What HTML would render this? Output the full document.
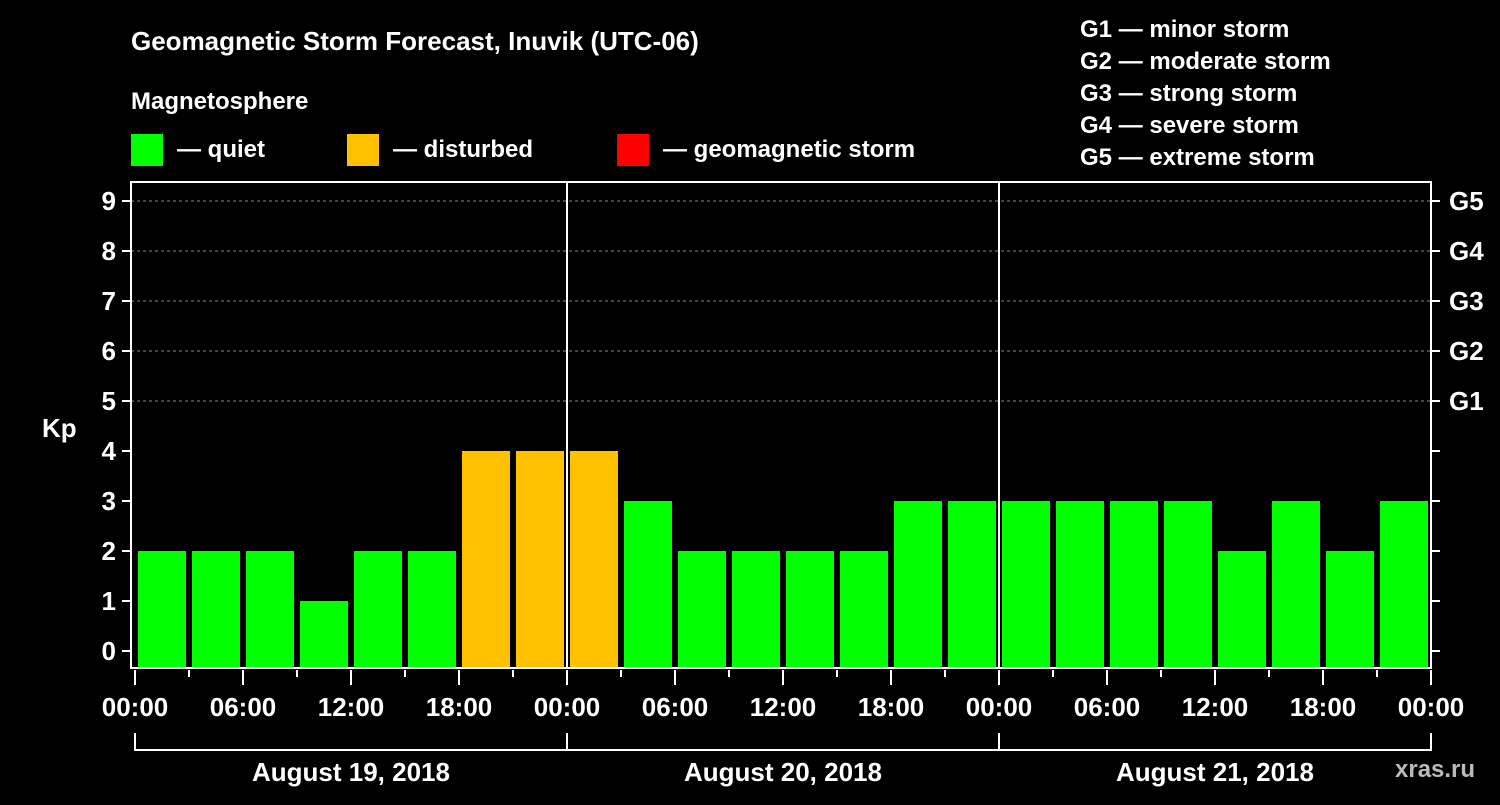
<!DOCTYPE html>
<html><head><meta charset="utf-8"><style>
body{margin:0;background:#000;width:1500px;height:800px;overflow:hidden}
svg text{font-family:"Liberation Sans",Arial,sans-serif;font-weight:bold;fill:#fff}
</style></head><body>
<svg id="c" width="1500" height="800" xmlns="http://www.w3.org/2000/svg">
<text x="131" y="50" font-size="26">Geomagnetic Storm Forecast, Inuvik (UTC-06)</text>
<text x="131" y="109" font-size="24">Magnetosphere</text>
<rect x="131" y="134" width="32" height="32" fill="#00ff00"/>
<text x="177" y="157" font-size="24">— quiet</text>
<rect x="347" y="134" width="32" height="32" fill="#ffc000"/>
<text x="393" y="157" font-size="24">— disturbed</text>
<rect x="617" y="134" width="32" height="32" fill="#ff0000"/>
<text x="663" y="157" font-size="24">— geomagnetic storm</text>
<g font-size="24">
<text x="1080" y="37">G1 — minor storm</text>
<text x="1080" y="69">G2 — moderate storm</text>
<text x="1080" y="101">G3 — strong storm</text>
<text x="1080" y="133">G4 — severe storm</text>
<text x="1080" y="165">G5 — extreme storm</text>
</g>
<text x="42" y="437" font-size="26">Kp</text>
<text x="1395" y="777" font-size="24" fill="#bbb" style="fill:#bbb">xras.ru</text>
<g id="plot"></g>
</svg>
<script>
const kpValues=[2,2,2,1,2,2,4,4,4,3,2,2,2,2,3,3,3,3,3,3,2,3,2,3];
const yTicks=[0,1,2,3,4,5,6,7,8,9];
const gLabels=["G1","G2","G3","G4","G5"];
const xTickLabels=["00:00","06:00","12:00","18:00","00:00","06:00","12:00","18:00","00:00","06:00","12:00","18:00","00:00"];
const dayLabels=["August 19, 2018","August 20, 2018","August 21, 2018"];
const NS="http://www.w3.org/2000/svg";
const g=document.getElementById('plot');
const x0=135,slot=54,L=131,R=1431,T=182,B=668;
const y=v=>651-50*v;
const xs=i=>x0+i*slot;
function mk(t,a){const e=document.createElementNS(NS,t);for(const k in a)e.setAttribute(k,a[k]);g.appendChild(e);return e;}
// grid
for(let v=5;v<=9;v++){const e=mk('line',{x1:L,x2:R,y1:y(v),y2:y(v),stroke:'#888','stroke-dasharray':'3,3','stroke-width':1});

}
// bars
kpValues.forEach((v,i)=>{const c=v>=5?'#ff0000':(v>=4?'#ffc000':'#00ff00');
const e=mk('rect',{x:xs(i)+3,y:y(v),width:48,height:B-y(v),fill:c});

});
// frame and day separators
const f=mk('rect',{x:L,y:T,width:R-L,height:B-T,fill:'none',stroke:'#fff','stroke-width':2});


[1,2].forEach(d=>{const e=mk('line',{x1:xs(d*8),x2:xs(d*8),y1:T,y2:B,stroke:'#fff','stroke-width':2});

});
// y ticks
yTicks.forEach(v=>{
const a=mk('line',{x1:122,x2:L,y1:y(v),y2:y(v),stroke:'#fff','stroke-width':2});


const b=mk('line',{x1:R,x2:1440,y1:y(v),y2:y(v),stroke:'#fff','stroke-width':2});


const t=mk('text',{x:116,y:y(v)+9,'font-size':26,'text-anchor':'end'});t.textContent=v;

});
gLabels.forEach((s,i)=>{const t=mk('text',{x:1449,y:y(5+i)+9,'font-size':26});t.textContent=s;

});
// x ticks
for(let i=0;i<=24;i++){const maj=i%2==0;
const e=mk('line',{x1:xs(i),x2:xs(i),y1:B+2,y2:maj?685:677,stroke:'#fff','stroke-width':2});

}
xTickLabels.forEach((s,i)=>{const t=mk('text',{x:xs(i*2),y:716,'font-size':26,'text-anchor':'middle'});t.textContent=s;

});
// day brackets
const br=mk('path',{d:`M${xs(0)} 733V750H${xs(24)}V733M${xs(8)} 733V750M${xs(16)} 733V750`,fill:'none',stroke:'#fff','stroke-width':2});


dayLabels.forEach((s,i)=>{const t=mk('text',{x:xs(i*8+4),y:781,'font-size':26,'text-anchor':'middle'});t.textContent=s;

});
</script>
</body></html>
